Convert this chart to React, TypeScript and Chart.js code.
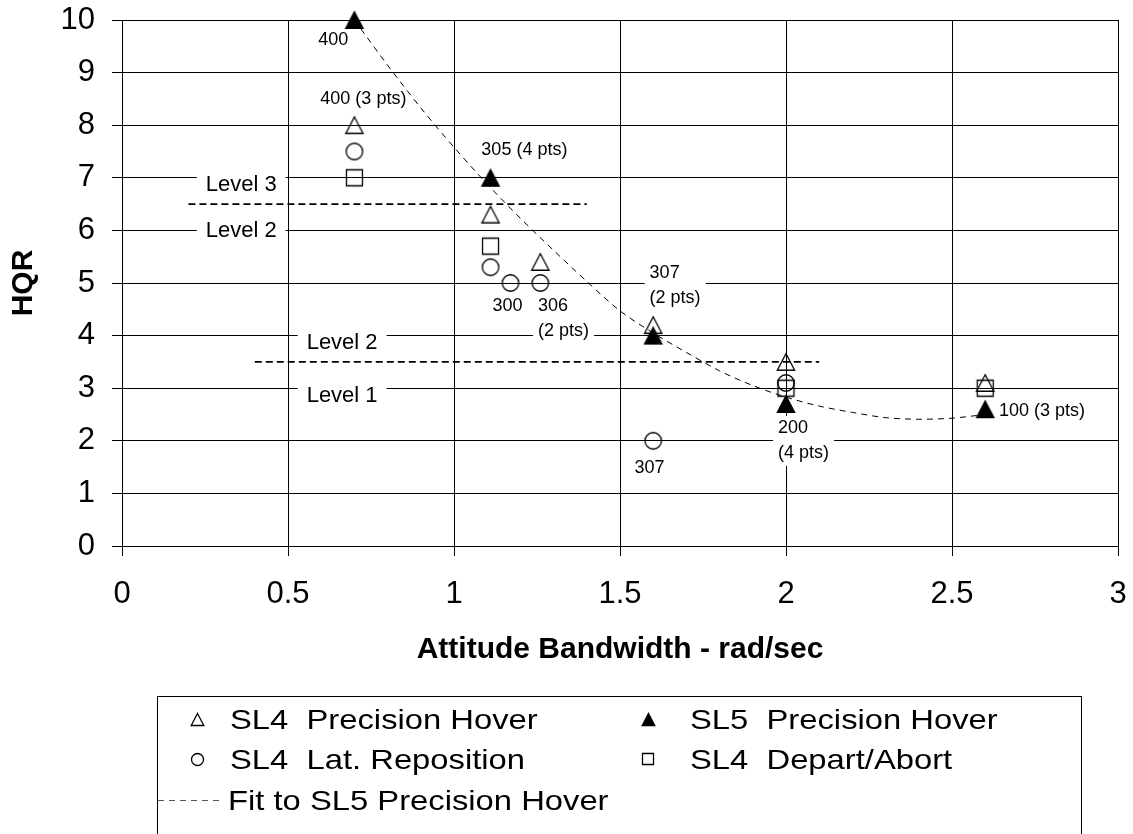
import React, { useEffect, useRef } from "react";
import { Chart, registerables } from "chart.js";
Chart.register(...registerables);

const FONT = "'Liberation Sans', Arial, Helvetica, sans-serif";

// ---- data ----
const xTicks = [0, 0.5, 1, 1.5, 2, 2.5, 3];
const yTicks = [0, 1, 2, 3, 4, 5, 6, 7, 8, 9, 10];

const sl4HoverX = [0.7, 1.11, 1.26, 1.6, 2.0, 2.6];
const sl4HoverY = [8.0, 6.3, 5.4, 4.2, 3.5, 3.1];
const sl4LatX = [0.7, 1.11, 1.17, 1.26, 1.6, 2.0];
const sl4LatY = [7.5, 5.3, 5.0, 5.0, 2.0, 3.1];
const sl4DepartX = [0.7, 1.11, 2.0, 2.6];
const sl4DepartY = [7.0, 5.7, 3.0, 3.0];
const sl5HoverX = [0.7, 1.11, 1.6, 2.0, 2.6];
const sl5HoverY = [10.0, 7.0, 4.0, 2.7, 2.6];

const fitX = [0.7, 0.8, 0.9, 1.0, 1.1, 1.2, 1.3, 1.4, 1.5, 1.6, 1.7, 1.8, 1.9, 2.0, 2.1, 2.2, 2.3, 2.4, 2.5, 2.6];
const fitY = [10.0, 9.14, 8.33, 7.58, 6.88, 6.23, 5.62, 5.03, 4.47, 4.05, 3.68, 3.33, 3.05, 2.83, 2.66, 2.54, 2.44, 2.41, 2.43, 2.5];

const level32X = [0.2, 1.4];
const level32Y = [6.5, 6.5];
const level21X = [0.4, 2.1];
const level21Y = [3.5, 3.5];

const levelText = ["Level 3", "Level 2", "Level 2", "Level 1"];
const levelX = [0.359, 0.359, 0.663, 0.663];
const levelY = [6.86, 5.99, 3.86, 2.85];

const noteLines = [["400"], ["400 (3 pts)"], ["305 (4 pts)"], ["300"], ["306", "(2 pts)"], ["307", "(2 pts)"], ["307"], ["200", "(4 pts)"], ["100 (3 pts)"]];
const noteX = [0.636, 0.727, 1.212, 1.161, 1.33, 1.666, 1.589, 2.053, 2.771];
const noteY = [9.62, 8.5, 7.53, 4.56, 4.325, 4.96, 1.48, 2.0, 2.57];
const noteAlign = ["center", "center", "center", "center", "left", "left", "center", "left", "center"];

const legendLabels = ["SL4  Precision Hover", "SL5  Precision Hover", "SL4  Lat. Reposition", "SL4  Depart/Abort", "Fit to SL5 Precision Hover"];

const xTitle = "Attitude Bandwidth - rad/sec";
const yTitle = "HQR";

function pts(xs: number[], ys: number[]) {
  return xs.map((x, i) => ({ x, y: ys[i] }));
}

function makeMarker(kind: string, filled: boolean, s: number): HTMLCanvasElement {
  const pad = 2;
  const n = Math.ceil(s) + pad * 2 + 1;
  const c = document.createElement("canvas");
  c.width = n;
  c.height = n;
  const ctx = c.getContext("2d")!;
  const m = n / 2;
  const h = s / 2;
  ctx.beginPath();
  if (kind === "tri") {
    ctx.moveTo(m, m - h);
    ctx.lineTo(m + h * 1.05, m + h);
    ctx.lineTo(m - h * 1.05, m + h);
    ctx.closePath();
  } else if (kind === "circle") {
    ctx.arc(m, m, h, 0, Math.PI * 2);
  } else {
    ctx.rect(m - h, m - h, s, s);
  }
  ctx.lineWidth = 1.3;
  ctx.strokeStyle = "#000";
  if (filled) {
    ctx.fillStyle = "#000";
    ctx.fill();
  }
  ctx.stroke();
  return c;
}

const notesPlugin = {
  id: "notes",
  beforeDatasetsDraw(chart: any) {
    const ctx = chart.ctx as CanvasRenderingContext2D;
    const xs = chart.scales.x;
    const ys = chart.scales.y;
    ctx.save();
    ctx.textBaseline = "middle";
    // level labels
    ctx.font = `22px ${FONT}`;
    levelText.forEach((t, i) => {
      const px = xs.getPixelForValue(levelX[i]);
      const py = ys.getPixelForValue(levelY[i]);
      const w = ctx.measureText(t).width;
      ctx.fillStyle = "#fff";
      ctx.fillRect(px - w / 2 - 9, py - 13, w + 18, 26);
      ctx.fillStyle = "#000";
      ctx.textAlign = "center";
      ctx.fillText(t, px, py);
    });
    // point annotations
    ctx.font = `18px ${FONT}`;
    const lh = 25;
    noteLines.forEach((lines, i) => {
      const px = xs.getPixelForValue(noteX[i]);
      const py = ys.getPixelForValue(noteY[i]);
      const w = Math.max(...lines.map((l) => ctx.measureText(l).width));
      const hgt = lines.length * lh;
      ctx.fillStyle = "#fff";
      ctx.fillRect(px - w / 2 - 5, py - hgt / 2, w + 10, hgt);
      ctx.fillStyle = "#000";
      lines.forEach((l, j) => {
        const ly = py - hgt / 2 + lh / 2 + j * lh;
        if (noteAlign[i] === "left") {
          ctx.textAlign = "left";
          ctx.fillText(l, px - w / 2, ly);
        } else {
          ctx.textAlign = "center";
          ctx.fillText(l, px, ly);
        }
      });
    });
    ctx.restore();
  },
};

const legendPlugin = {
  id: "customLegend",
  afterDraw(chart: any) {
    const ctx = chart.ctx as CanvasRenderingContext2D;
    ctx.save();
    ctx.strokeStyle = "#000";
    ctx.lineWidth = 1;
    ctx.strokeRect(157.5, 696.5, 924, 200);
    const icons = [
      makeMarker("tri", false, 12),
      makeMarker("tri", true, 12),
      makeMarker("circle", false, 12),
      makeMarker("rect", false, 11),
    ];
    const iconX = [197, 648, 197, 648];
    const iconY = [719, 719, 759, 759];
    const textX = [230, 690, 230, 690, 228];
    const base = [729, 729, 769, 769, 810];
    icons.forEach((ic, i) => {
      ctx.drawImage(ic, Math.round(iconX[i] - ic.width / 2), Math.round(iconY[i] - ic.height / 2));
    });
    // dashed sample line
    ctx.beginPath();
    ctx.setLineDash([6, 5]);
    ctx.strokeStyle = "#555";
    ctx.moveTo(158, 800.5);
    ctx.lineTo(222, 800.5);
    ctx.stroke();
    ctx.setLineDash([]);
    ctx.fillStyle = "#000";
    ctx.font = `28px ${FONT}`;
    ctx.textAlign = "left";
    ctx.textBaseline = "alphabetic";
    legendLabels.forEach((t, i) => {
      ctx.save();
      ctx.translate(textX[i], base[i]);
      ctx.scale(1.17, 1);
      ctx.fillText(t, 0, 0);
      ctx.restore();
    });
    ctx.restore();
  },
};

export default function App() {
  const ref = useRef<HTMLCanvasElement | null>(null);
  useEffect(() => {
    document.body.style.margin = "0";
    const canvas = ref.current!;
    const triOpen = makeMarker("tri", false, 16.5);
    const triFill = makeMarker("tri", true, 16.5);
    const circ = makeMarker("circle", false, 16.5);
    const sq = makeMarker("rect", false, 16);
    const pointDs = (label: string, data: any[], img: HTMLCanvasElement) => ({
      label,
      data,
      showLine: false,
      pointStyle: img,
      pointRadius: 8,
      pointHoverRadius: 8,
      borderColor: "#000",
      backgroundColor: "#000",
      clip: false,
    });
    const lineDs = (label: string, data: any[], width: number, dash: number[], tension: number) => ({
      label,
      data,
      showLine: true,
      pointRadius: 0,
      pointHoverRadius: 0,
      borderColor: "#000",
      borderWidth: width,
      borderDash: dash,
      tension,
      fill: false,
      clip: false,
    });
    const chart = new Chart(canvas, {
      type: "scatter",
      data: {
        datasets: [
          pointDs("SL5 Precision Hover", pts(sl5HoverX, sl5HoverY), triFill),
          pointDs("SL4 Precision Hover", pts(sl4HoverX, sl4HoverY), triOpen),
          pointDs("SL4 Lat. Reposition", pts(sl4LatX, sl4LatY), circ),
          pointDs("SL4 Depart/Abort", pts(sl4DepartX, sl4DepartY), sq),
          lineDs("Fit to SL5 Precision Hover", pts(fitX, fitY), 1, [6, 5], 0.3),
          lineDs("Level 3/2", pts(level32X, level32Y), 1.6, [7, 4], 0),
          lineDs("Level 2/1", pts(level21X, level21Y), 1.6, [7, 4], 0),
        ] as any,
      },
      options: {
        animation: false,
        responsive: false,
        devicePixelRatio: 1,
        events: [],
        layout: { padding: { top: 20, right: 15, bottom: 166, left: 0 } },
        plugins: {
          legend: { display: false },
          tooltip: { enabled: false },
        },
        scales: {
          x: {
            type: "linear",
            min: 0,
            max: 3,
            afterBuildTicks: (s: any) => {
              s.ticks = xTicks.map((v) => ({ value: v }));
            },
            afterFit: (s: any) => {
              s.height = 122;
              s.paddingLeft = 0;
              s.paddingRight = 0;
            },
            ticks: {
              autoSkip: false,
              maxRotation: 0,
              padding: 20,
              color: "#000",
              font: { family: FONT, size: 31 },
              callback: (v: any) => String(v),
            },
            grid: { color: "#000", lineWidth: 1, tickLength: 10, tickColor: "#000", drawTicks: true },
            border: { display: true, color: "#000", width: 1 },
            title: {
              display: true,
              text: xTitle,
              color: "#000",
              font: { family: FONT, size: 30, weight: "bold" },
              padding: { top: 0, bottom: 0 },
            },
          },
          y: {
            type: "linear",
            min: 0,
            max: 10,
            afterBuildTicks: (s: any) => {
              s.ticks = yTicks.map((v) => ({ value: v }));
            },
            afterFit: (s: any) => {
              s.width = 122;
              s.paddingTop = 0;
              s.paddingBottom = 0;
            },
            ticks: {
              autoSkip: false,
              padding: 17,
              color: "#000",
              font: { family: FONT, size: 31 },
              callback: (v: any) => String(v),
            },
            grid: { color: "#000", lineWidth: 1, tickLength: 10, tickColor: "#000", drawTicks: true },
            border: { display: true, color: "#000", width: 1 },
            title: {
              display: true,
              text: yTitle,
              color: "#000",
              font: { family: FONT, size: 30, weight: "bold" },
              padding: { top: 6, bottom: 0 },
            },
          },
        },
      } as any,
      plugins: [notesPlugin, legendPlugin],
    });
    return () => chart.destroy();
  }, []);
  return (
    <div style={{ position: "fixed", left: 0, top: 0, width: 1133, height: 834, background: "#fff" }}>
      <canvas ref={ref} width={1133} height={834} style={{ display: "block", width: 1133, height: 834 }} />
    </div>
  );
}
